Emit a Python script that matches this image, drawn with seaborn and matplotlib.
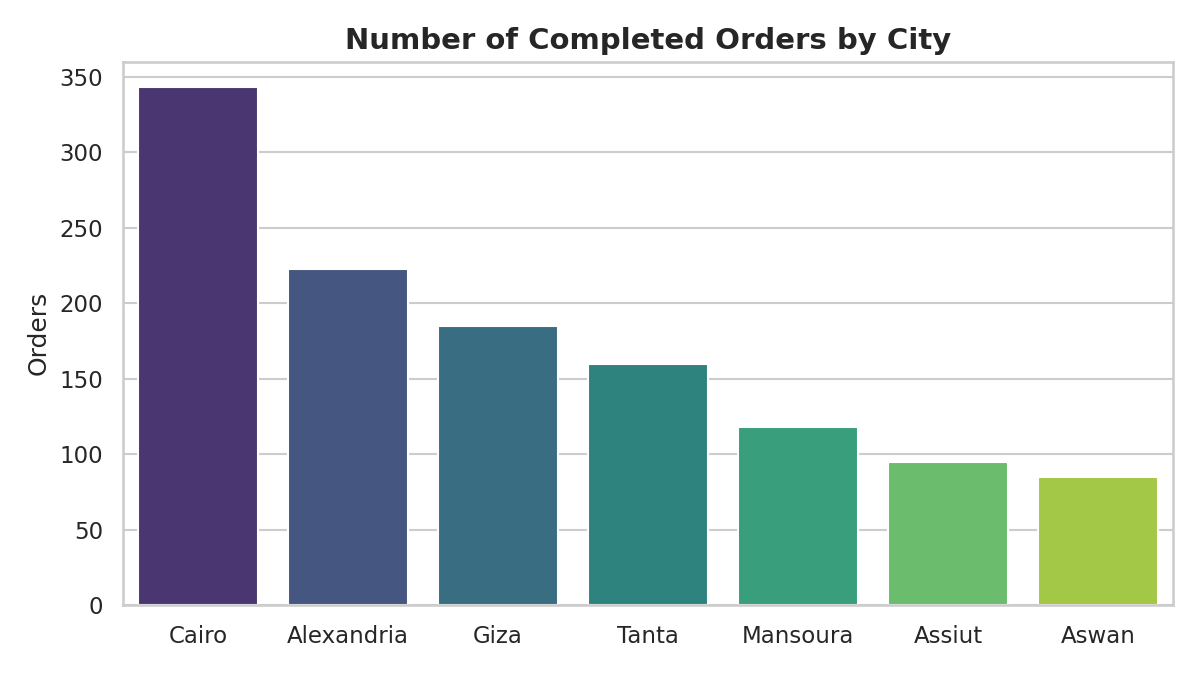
import pandas as pd
import matplotlib.pyplot as plt
import seaborn as sns

cities = ["Cairo", "Alexandria", "Giza", "Tanta", "Mansoura", "Assiut", "Aswan"]
orders = [343, 223, 185, 160, 118, 95, 85]

df = pd.DataFrame({"City": cities, "Orders": orders})

sns.set_theme(style="whitegrid")

fig = plt.figure(figsize=(8, 4.5), dpi=150)
ax = sns.barplot(data=df, x="City", y="Orders", hue="City", palette="viridis", legend=False)
ax.set_title("Number of Completed Orders by City", fontsize=14, fontweight="bold")
ax.set_xlabel("")
ax.set_ylabel("Orders")

plt.tight_layout()
plt.savefig("out.png", dpi=150)
